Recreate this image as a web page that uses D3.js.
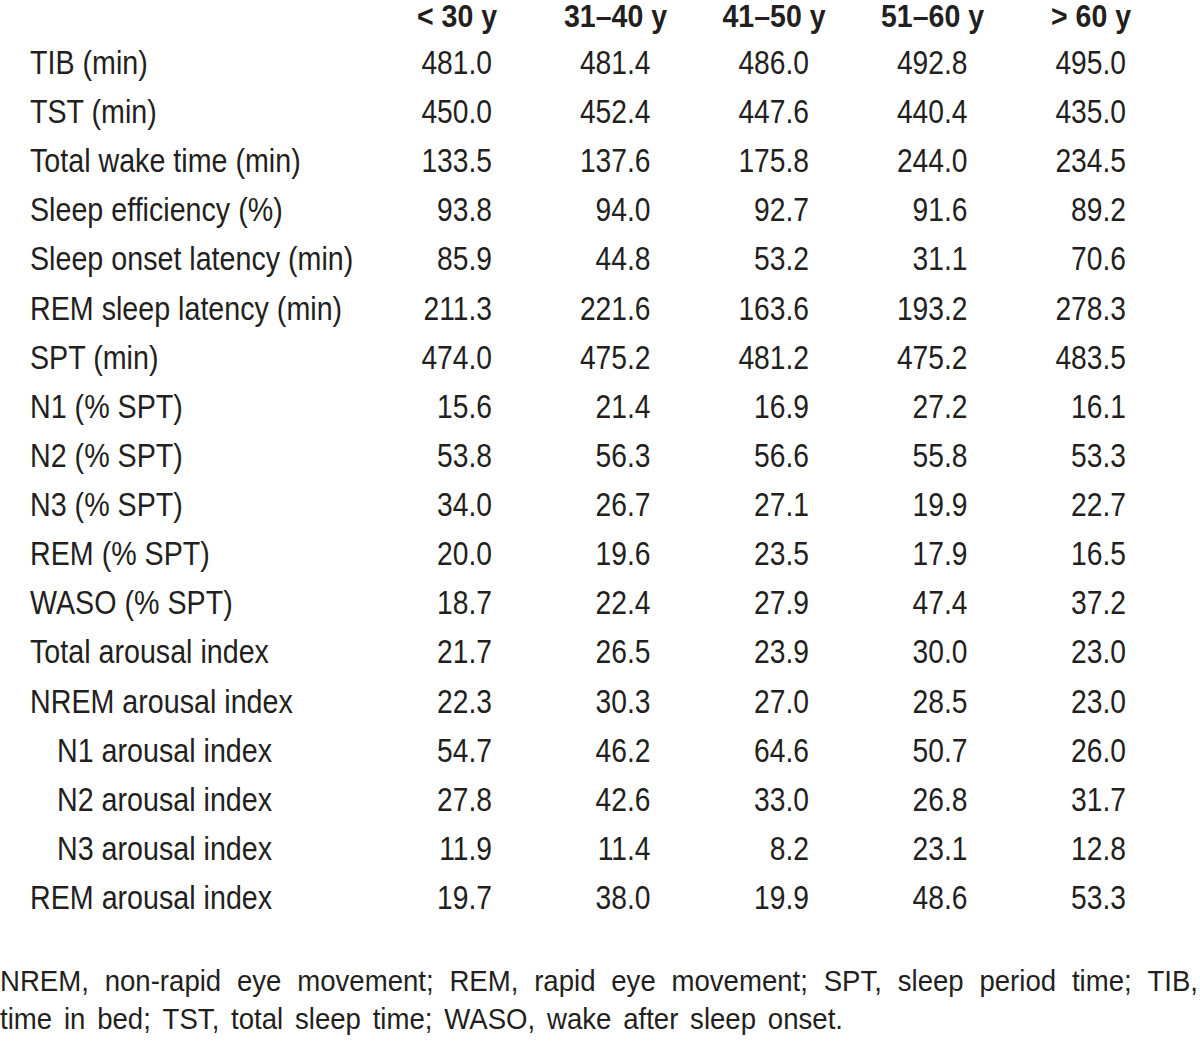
<!DOCTYPE html>
<html>
<head>
<meta charset="utf-8">
<script src="https://cdn.jsdelivr.net/npm/d3@7"></script>
<style>
  html, body { margin: 0; padding: 0; background: #fff; }
  svg { display: block; }
  text { font-family: "Liberation Sans", Arial, sans-serif; fill: #231f20; }
</style>
</head>
<body>
<svg id="chart" width="1200" height="1042"></svg>
<script>
const ageGroups = ["< 30 y", "31\u201340 y", "41\u201350 y", "51\u201360 y", "> 60 y"];
const rowLabels = [
  "TIB (min)", "TST (min)", "Total wake time (min)", "Sleep efficiency (%)",
  "Sleep onset latency (min)", "REM sleep latency (min)", "SPT (min)",
  "N1 (% SPT)", "N2 (% SPT)", "N3 (% SPT)", "REM (% SPT)", "WASO (% SPT)",
  "Total arousal index", "NREM arousal index", "N1 arousal index",
  "N2 arousal index", "N3 arousal index", "REM arousal index"
];
const indentedRows = ["N1 arousal index", "N2 arousal index", "N3 arousal index"];
const under30 = [481.0, 450.0, 133.5, 93.8, 85.9, 211.3, 474.0, 15.6, 53.8, 34.0, 20.0, 18.7, 21.7, 22.3, 54.7, 27.8, 11.9, 19.7];
const age31to40 = [481.4, 452.4, 137.6, 94.0, 44.8, 221.6, 475.2, 21.4, 56.3, 26.7, 19.6, 22.4, 26.5, 30.3, 46.2, 42.6, 11.4, 38.0];
const age41to50 = [486.0, 447.6, 175.8, 92.7, 53.2, 163.6, 481.2, 16.9, 56.6, 27.1, 23.5, 27.9, 23.9, 27.0, 64.6, 33.0, 8.2, 19.9];
const age51to60 = [492.8, 440.4, 244.0, 91.6, 31.1, 193.2, 475.2, 27.2, 55.8, 19.9, 17.9, 47.4, 30.0, 28.5, 50.7, 26.8, 23.1, 48.6];
const over60 = [495.0, 435.0, 234.5, 89.2, 70.6, 278.3, 483.5, 16.1, 53.3, 22.7, 16.5, 37.2, 23.0, 23.0, 26.0, 31.7, 12.8, 53.3];
const seriesValues = [under30, age31to40, age41to50, age51to60, over60];
const footnoteLines = [
  "NREM, non-rapid eye movement; REM, rapid eye movement; SPT, sleep period time; TIB,",
  "time in bed; TST, total sleep time; WASO, wake after sleep onset."
];

const svg = d3.select("#chart");
const bodySize = 34, bodyScale = 0.83, labelScale = 0.843;
const headSize = 31, headScale = 0.92;

const x = d3.scalePoint().domain(ageGroups).range([492, 1126]);
const y = d3.scalePoint().domain(rowLabels).range([74, 909]);
const fmt = d3.format(".1f");

// header
svg.append("g").selectAll("g").data(ageGroups).join("g")
  .attr("transform", d => `translate(${x(d) - 35},27) scale(${headScale},1)`)
  .append("text")
  .attr("text-anchor", "middle")
  .attr("font-weight", "bold")
  .attr("font-size", headSize)
  .text(d => d);

// row labels
svg.append("g").selectAll("g").data(rowLabels).join("g")
  .attr("transform", d => `translate(${indentedRows.includes(d) ? 57 : 30},${y(d)}) scale(${labelScale},1)`)
  .append("text")
  .attr("font-size", bodySize)
  .text(d => d);

// values
ageGroups.forEach((g, ci) => {
  svg.append("g").selectAll("g").data(seriesValues[ci]).join("g")
    .attr("transform", (d, i) => `translate(${x(g)},${y(rowLabels[i])}) scale(${bodyScale},1)`)
    .append("text")
    .attr("text-anchor", "end")
    .attr("font-size", bodySize)
    .text(d => fmt(d));
});

// footnote (slightly condensed glyphs, justified word spacing)
const footSize = 30, footScale = 0.92;
const footBaselines = [991, 1029];
const footTargets = [1198, 843];
const footG = svg.append("g");

footnoteLines.forEach((line, li) => {
  const words = line.split(" ");
  const lg = footG.append("g").attr("transform", `translate(0,${footBaselines[li]}) scale(${footScale},1)`);
  const widths = words.map(w => {
    const t = lg.append("text").attr("font-size", footSize).text(w);
    const wl = t.node().getComputedTextLength();
    t.remove();
    return wl;
  });
  const total = d3.sum(widths);
  const target = footTargets[li] / footScale;
  const gap = (target - total) / (words.length - 1);
  let cx = 0;
  words.forEach((w, i) => {
    lg.append("text").attr("font-size", footSize).attr("x", cx).text(w);
    cx += widths[i] + gap;
  });
});
</script>
</body>
</html>
